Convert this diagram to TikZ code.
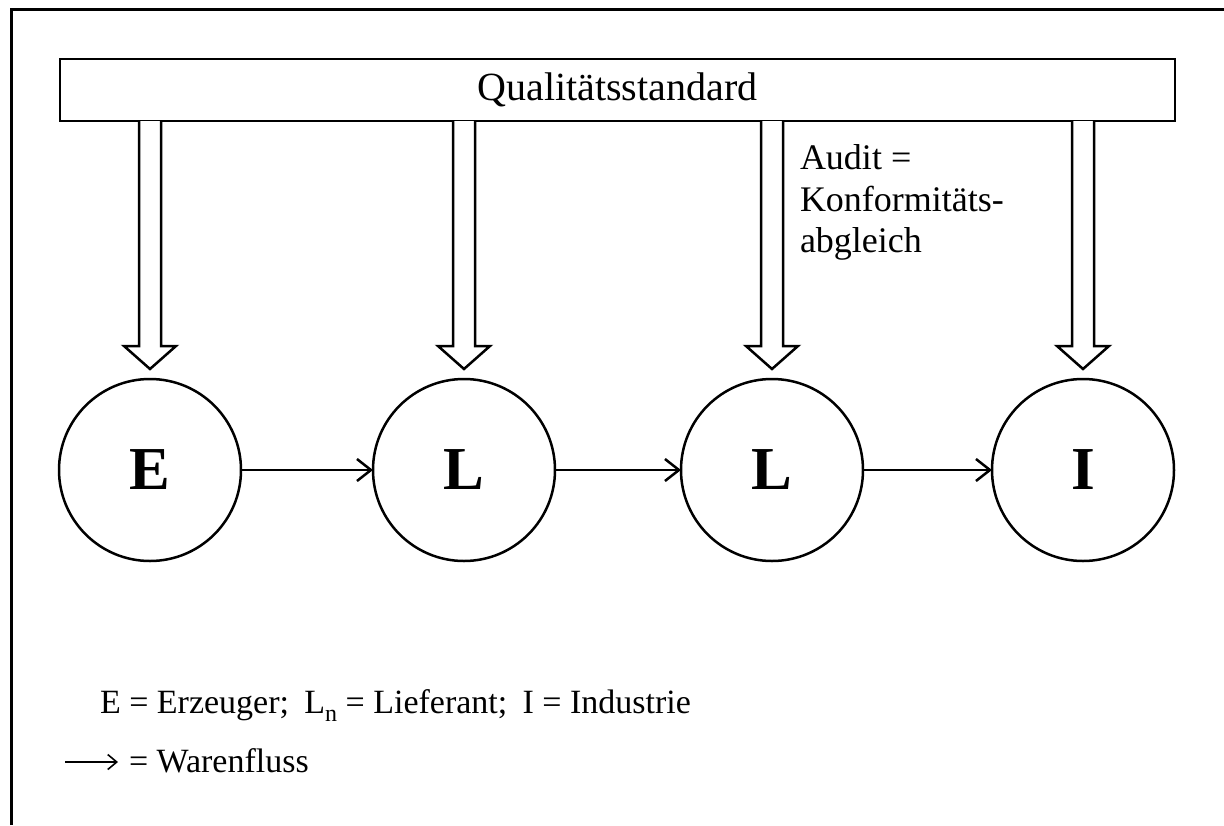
\documentclass[tikz,border=0pt]{standalone}
\usepackage{fontspec}
\setmainfont{Liberation Serif}
\usetikzlibrary{arrows.meta,calc}
\newcommand\lowsub[1]{\raisebox{-0.25em}{\fontsize{24}{24}\selectfont #1}}
\begin{document}
\begin{tikzpicture}[x=1pt,y=-1pt,
  txt/.style={inner sep=0pt, outer sep=0pt, font=\fontsize{34}{41.5}\selectfont},
  qbox/.style={draw, line width=2.5pt, minimum width=1115pt, minimum height=62pt, inner sep=0pt, outer sep=0pt, font=\fontsize{40}{44}\selectfont},
  circ/.style={circle, draw, line width=2.5pt, minimum size=182pt, inner sep=0pt, outer sep=0pt, font=\fontsize{61}{63}\selectfont\bfseries},
  barrow/.style={draw, line width=2.5pt, line join=miter, fill=white},
  flow/.style={draw, line width=2.5pt, -{Straight Barb[length=14pt, width=22pt, line width=2.5pt]}},
  legflow/.style={draw, line width=1.6pt, -{Straight Barb[length=9pt, width=15pt, line width=1.6pt]}},
  frame/.style={draw, line width=3.5pt}]
\useasboundingbox (0,0) rectangle (1224,825);
\fill[white] (0,0) rectangle (1224,825);
\draw[frame] (11.5,825) -- (11.5,9.5) -- (1224,9.5);
\node[qbox] (q) at (617.5,90) {Qualitätsstandard};
\node[circ] (e) at (150,470) {E};
\node[circ] (l1) at (464,470) {L};
\node[circ] (l2) at (772,470) {L};
\node[circ] (i) at (1083,470) {I};
\foreach \n in {e,l1,l2,i}{
  \draw[barrow] ($(q.south -| \n)+(-11,0)$) -- ++(0,225) -- ++(-15,0) -- ++(26,23) -- ++(26,-23) -- ++(-15,0) -- ++(0,-225);
}
\draw[flow] (e) -- (l1);
\draw[flow] (l1) -- (l2);
\draw[flow] (l2) -- (i);
\node[txt, anchor=north west, align=left, font=\fontsize{36}{41.5}\selectfont] (audit) at (800,145) {Audit =\\Konformitäts-\\abgleich};
\node[txt, anchor=base west] (leg1) at (100,713) {E = Erzeuger;\hspace{0.45em}L\lowsub{n} = Lieferant;\hspace{0.45em}I = Industrie};
\coordinate (la) at (65,762);
\coordinate (lb) at (118,762);
\draw[legflow] (la) -- (lb);
\node[txt, anchor=base west] (leg2) at (129,772) {= Warenfluss};
\end{tikzpicture}
\end{document}
